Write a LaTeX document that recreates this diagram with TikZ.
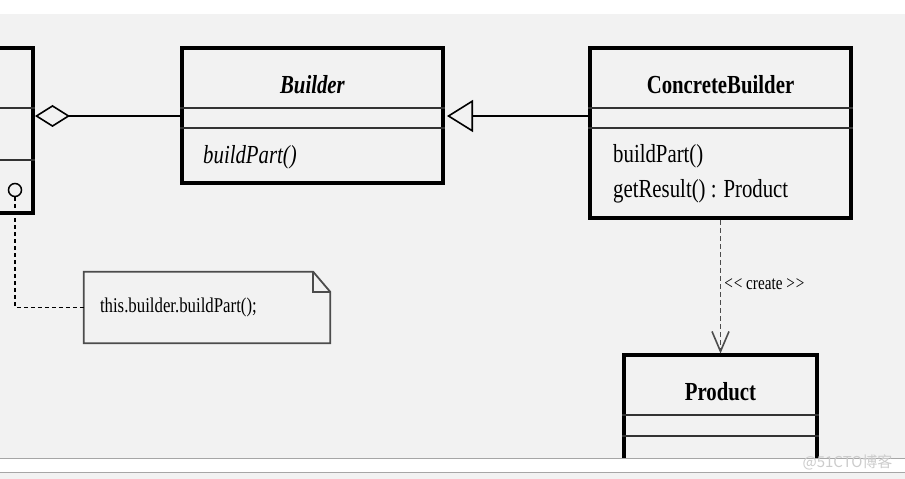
\documentclass[tikz,border=0pt]{standalone}
\usepackage{fontspec}
\setmainfont[FakeStretch=0.8]{Liberation Serif}
\newfontfamily\cjkfont{Noto Sans CJK SC}
\usetikzlibrary{arrows.meta,positioning}
\definecolor{panel}{HTML}{F2F2F2}
\tikzset{
    %Define standard arrow tip
    >={Straight Barb[length=20pt,width=17pt]},
    %Define style for class boxes
    classbox/.style={
           rectangle,
           draw=black, line width=4pt,
           inner sep=0pt,
           anchor=north},
    classname/.style={
           font=\fontsize{26}{28}\selectfont\bfseries,
           text centered},
    member/.style={
           font=\fontsize{26}{28}\selectfont,
           anchor=west, inner sep=0pt},
    divider/.style={
           line width=2pt, draw=black!80},
    hook/.style={
           circle, draw=black, line width=1.5pt,
           minimum size=13pt, inner sep=0pt},
    %Define style for the note
    notebox/.style={
           rectangle,
           minimum height=71pt,
           text width=214pt, inner xsep=16pt,
           align=left,
           font=\fontsize{21}{23}\selectfont},
    noteline/.style={
           line width=1.8pt, draw=black!70, line join=miter},
    % Define arrow styles
    aggr/.style={
           line width=1.6pt,
           -{Diamond[open,length=35pt,width=22pt]}},
    inherit/.style={
           line width=1.6pt,
           shorten >=2pt,
           -{Triangle[open,length=26pt,width=32pt]}},
    depend/.style={
           ->, line width=1.6pt,
           draw=black!70,
           dash pattern=on 5pt off 3pt},
    stereo/.style={
           font=\fontsize{19}{21}\selectfont,
           inner sep=3pt}
}
\begin{document}
\begin{tikzpicture}[x=1pt,y=1pt]
\useasboundingbox (0,0) rectangle (905,479);
% background
\fill[white] (0,0) rectangle (905,479);
\fill[panel] (0,20) rectangle (905,465);

% classes
\node[classbox, anchor=north east, minimum width=100pt, minimum height=165pt] (director) at (35,432.5) {};
\node[classbox, minimum width=261pt, minimum height=135pt] (builder) at (312.5,432.5) {};
\node[classbox, minimum width=261pt, minimum height=170pt] (concrete) at (720.5,432.5) {};
\node[classbox, minimum width=193pt, minimum height=125pt] (product) at (720.5,125.5) {};
\foreach \c/\a/\b in {director/62/113.5, builder/62/82, concrete/62/82, product/61.5/83}
  \draw[divider] ([yshift=-\a]\c.north west) -- ([yshift=-\a]\c.north east)
                 ([yshift=-\b]\c.north west) -- ([yshift=-\b]\c.north east);

\node[classname] (buildername) at ([yshift=-38.5]builder.north) {\textit{Builder}};
\node[classname] (concretename) at ([yshift=-38.5]concrete.north) {ConcreteBuilder};
\node[classname] (productname) at ([yshift=-38]product.north) {Product};
\node[member] (buildpart) at ([shift={(23,-110.5)}]builder.north west) {\textit{buildPart()}};
\node[member] (cbbuildpart) at ([shift={(25,-110)}]concrete.north west) {buildPart()};
\node[member] (getresult) at ([shift={(25,-145)}]concrete.north west) {getResult() : Product};
\node[hook] (hookpt) at (15,289) {};

% note
\node[notebox] (note) at (207,171.5) {this.builder.buildPart();};
\draw[noteline] (note.south west) -- (note.north west) -- ([xshift=-17]note.north east)
   -- ([yshift=-20]note.north east) -- (note.south east) -- cycle;
\draw[noteline] ([xshift=-17]note.north east) -- ([xshift=-17,yshift=-20]note.north east)
   -- ([yshift=-20]note.north east);

% connectors
\draw[aggr] (builder.west) -- (builder.west -| director.east);
\draw[inherit] (concrete.west |- builder.west) -- (builder.east);
\draw[depend] (concrete) -- node[stereo, pos=0.48, right] (createlabel) {<\kern1pt<\ create >\kern1pt>} (product);
\draw[line width=1.5pt, dash pattern=on 4pt off 3pt] (hookpt.south) |- (note.west);

% bottom strip
\fill[white] (0,6) rectangle (905,20);
\fill[black!5] (0,0) rectangle (905,6);
\draw[black!35, line width=1pt] (0,20) -- (905,20) (0,6) -- (905,6);
\node[font=\cjkfont\fontsize{15}{15}\selectfont, text=black!20, anchor=east] (mark) at (896,17) {@51CTO博客};
\end{tikzpicture}
\end{document}
